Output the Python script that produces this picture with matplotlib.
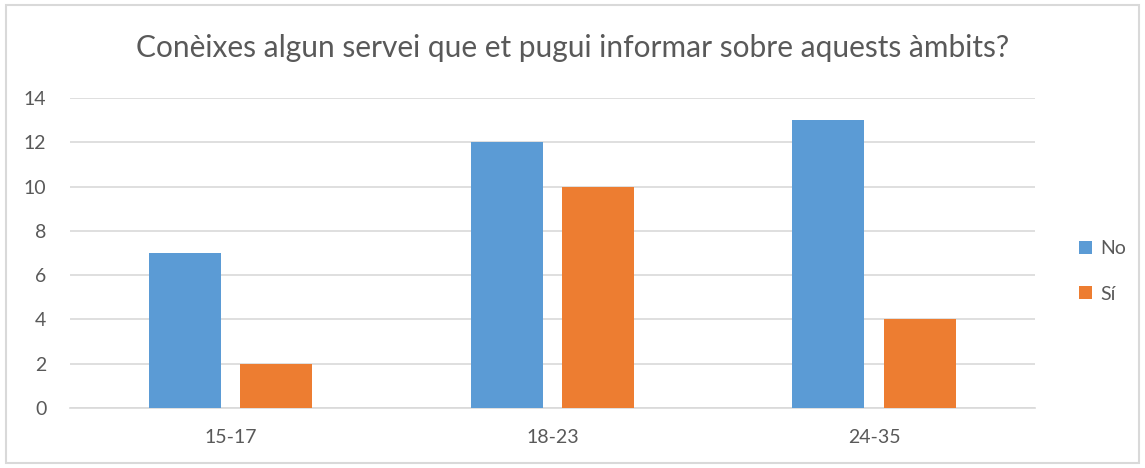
import numpy as np
import matplotlib.pyplot as plt
from matplotlib.patches import Rectangle

plt.rcParams['font.family'] = ['Lato', 'DejaVu Sans']

groups = ['15-17', '18-23', '24-35']
no_vals = [7, 12, 13]
si_vals = [2, 10, 4]
series_names = ['No', 'Sí']

blue = '#5B9BD5'
orange = '#ED7D31'
text_col = '#595959'
grid_col = '#D9D9D9'

fig = plt.figure(figsize=(11.45, 4.68), dpi=100)
ax = fig.add_axes([0.0611, 0.1282, 0.8428, 0.6624])

x = np.arange(len(groups))
width = 0.224
offset = 0.142
ax.bar(x - offset, no_vals, width, color=blue, label=series_names[0], zorder=3)
ax.bar(x + offset, si_vals, width, color=orange, label=series_names[1], zorder=3)

ax.set_xlim(-0.5, len(groups) - 0.5)
ax.set_ylim(0, 14)
ax.set_yticks(range(0, 15, 2))
ax.set_xticks(x)
ax.set_xticklabels(groups)
ax.yaxis.grid(True, color=grid_col, linewidth=1.2, zorder=0)
ax.tick_params(axis='both', length=0, colors=text_col, labelsize=14)
ax.tick_params(axis='y', pad=17)
ax.tick_params(axis='x', pad=15)
for side in ['top', 'right', 'left']:
    ax.spines[side].set_visible(False)
ax.spines['bottom'].set_color(grid_col)
ax.spines['bottom'].set_linewidth(1.2)

fig.text(0.5, 0.898, 'Conèixes algun servei que et pugui informar sobre aquests àmbits?',
         ha='center', va='center', fontsize=21.5, color=text_col)

leg = fig.legend(loc='center left', bbox_to_anchor=(0.927, 0.42), frameon=False,
                 fontsize=14, handlelength=0.65, handleheight=0.65,
                 handletextpad=0.45, labelspacing=1.45)
for t in leg.get_texts():
    t.set_color(text_col)

# light frame around the whole chart
fig.patches.append(Rectangle((0.005, 0.01), 0.99, 0.98, transform=fig.transFigure,
                             fill=False, edgecolor='#D9D9D9', linewidth=1.5))

fig.savefig('out.png', dpi=100, facecolor='white')
